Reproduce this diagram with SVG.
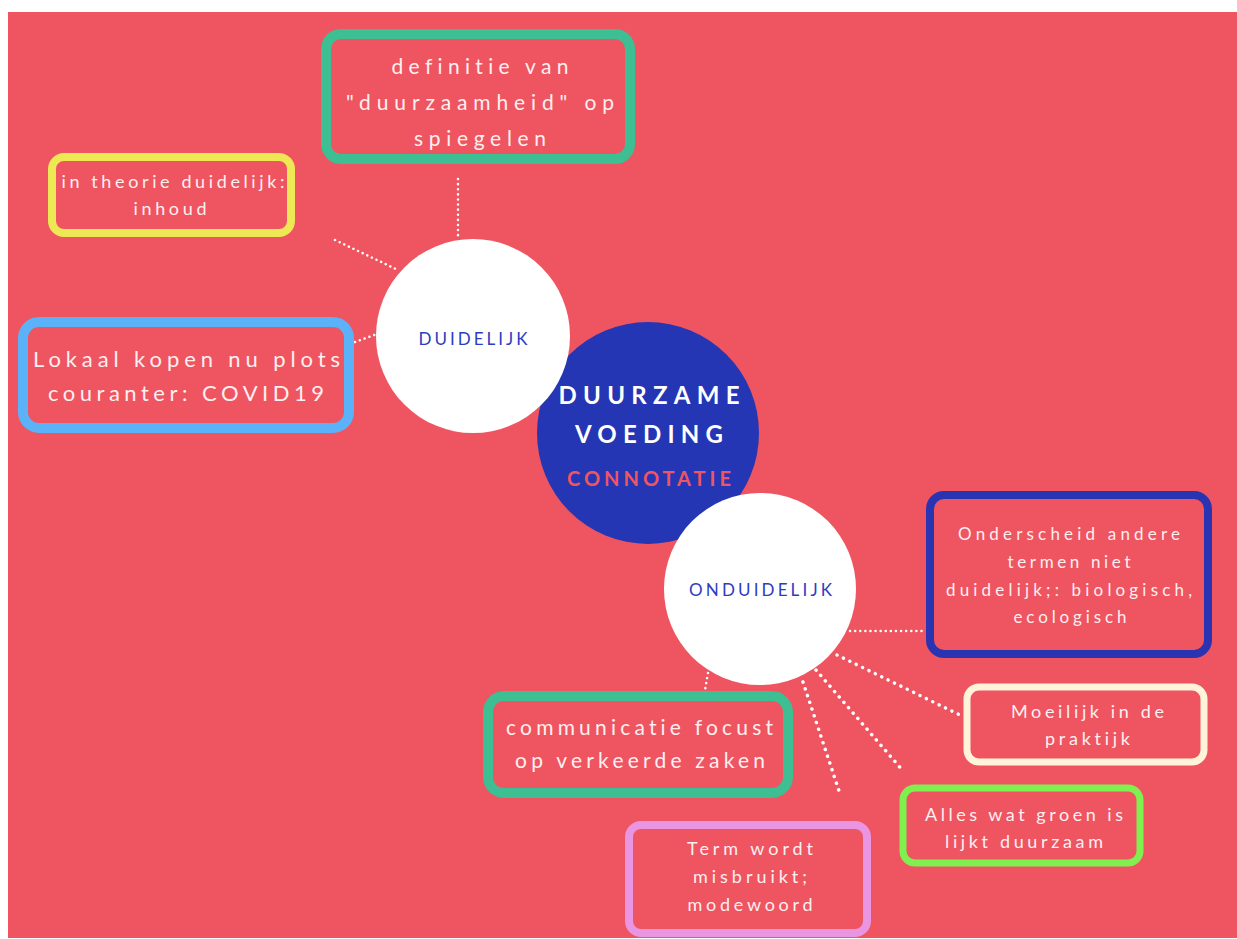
<svg xmlns="http://www.w3.org/2000/svg" width="1237" height="939" viewBox="0 0 1237 939">
  <style>
    text { font-variant-ligatures: none; }
    .box { fill: #EE5560; }
    .lbl { font-family: Lato, "Open Sans", "Liberation Sans", sans-serif; fill: #FDEFF0; text-anchor: middle; }
    .dot { fill: none; stroke: #FFFFFF; stroke-linecap: round; }
    .fine { stroke-width: 2.5; stroke-dasharray: 0.1 5; }
    .bold { stroke-width: 3.5; stroke-dasharray: 0.1 7; }
    .circ { font-family: Lato, "Open Sans", "Liberation Sans", sans-serif; text-anchor: middle; fill: #2E3DBF; font-size: 17px; }
    .core { font-family: Lato, "Open Sans", "Liberation Sans", sans-serif; text-anchor: middle; font-weight: bold; }
  </style>

  <rect x="0" y="0" width="1237" height="939" fill="#FFFFFF"/>
  <rect x="8" y="12" width="1229" height="926" fill="#EE5560"/>

  <!-- dotted links between the circles and their boxes -->
  <g id="connectors">
    <line class="dot fine" x1="458" y1="179" x2="458" y2="238"/>
    <line class="dot fine" x1="335" y1="240" x2="398" y2="270"/>
    <line class="dot fine" x1="355" y1="342" x2="377" y2="334"/>
    <line class="dot fine" x1="850" y1="631" x2="925" y2="631"/>
    <line class="dot bold" x1="837" y1="655" x2="962" y2="716"/>
    <line class="dot bold" x1="816" y1="670" x2="904" y2="772"/>
    <line class="dot bold" x1="803" y1="682" x2="840" y2="794"/>
    <line class="dot fine" x1="708" y1="673" x2="705" y2="690"/>
  </g>

  <g id="centre">
    <circle cx="648" cy="433" r="111" fill="#2536B5"/>
    <text class="core" x="649" y="404" font-size="24" fill="#FFFFFF" textLength="181" lengthAdjust="spacing">DUURZAME</text>
    <text class="core" x="649" y="443" font-size="24" fill="#FFFFFF" textLength="148" lengthAdjust="spacing">VOEDING</text>
    <text class="core" x="649" y="486" font-size="20" fill="#EE5560" textLength="164" lengthAdjust="spacing">CONNOTATIE</text>
  </g>

  <g id="duidelijk">
    <circle cx="473" cy="336" r="97" fill="#FFFFFF"/>
    <text class="circ" x="473" y="345" textLength="109" lengthAdjust="spacing">DUIDELIJK</text>
  </g>

  <g id="onduidelijk">
    <circle cx="760" cy="589" r="96" fill="#FFFFFF"/>
    <text class="circ" x="760.5" y="596" textLength="143" lengthAdjust="spacing">ONDUIDELIJK</text>
  </g>

  <g id="definitie">
    <rect class="box" x="326" y="34" width="304" height="125" rx="15" stroke="#3DBE93" stroke-width="10"/>
    <text class="lbl" x="480" y="74" font-size="21" textLength="177" lengthAdjust="spacing">definitie van</text>
    <text class="lbl" x="480" y="110" font-size="21" textLength="268" lengthAdjust="spacing">"duurzaamheid" op</text>
    <text class="lbl" x="480" y="146" font-size="21" textLength="132" lengthAdjust="spacing">spiegelen</text>
  </g>

  <g id="theorie">
    <rect class="box" x="52" y="157" width="239" height="76" rx="12" stroke="#EDE854" stroke-width="8"/>
    <text class="lbl" x="173" y="188" font-size="18" textLength="223" lengthAdjust="spacing">in theorie duidelijk:</text>
    <text class="lbl" x="170" y="215" font-size="18" textLength="73" lengthAdjust="spacing">inhoud</text>
  </g>

  <g id="lokaal">
    <rect class="box" x="23" y="322" width="326" height="106" rx="16" stroke="#5BB2F8" stroke-width="10"/>
    <text class="lbl" x="186.5" y="367" font-size="22" textLength="307" lengthAdjust="spacing">Lokaal kopen nu plots</text>
    <text class="lbl" x="186" y="401" font-size="22" textLength="276" lengthAdjust="spacing">couranter: COVID19</text>
  </g>

  <g id="onderscheid">
    <rect class="box" x="930" y="495" width="278" height="159" rx="14" stroke="#2A34B2" stroke-width="8"/>
    <text class="lbl" x="1069" y="540" font-size="17" textLength="222" lengthAdjust="spacing">Onderscheid andere</text>
    <text class="lbl" x="1069" y="568" font-size="17" textLength="123" lengthAdjust="spacing">termen niet</text>
    <text class="lbl" x="1069" y="596" font-size="17" textLength="246" lengthAdjust="spacing">duidelijk;: biologisch,</text>
    <text class="lbl" x="1070" y="623" font-size="17" textLength="113" lengthAdjust="spacing">ecologisch</text>
  </g>

  <g id="moeilijk">
    <rect class="box" x="967" y="687" width="237" height="75" rx="12" stroke="#FFF3DA" stroke-width="7"/>
    <text class="lbl" x="1087.5" y="718" font-size="18" textLength="153" lengthAdjust="spacing">Moeilijk in de</text>
    <text class="lbl" x="1087.5" y="745" font-size="18" textLength="85" lengthAdjust="spacing">praktijk</text>
  </g>

  <g id="groen">
    <rect class="box" x="903" y="788" width="237" height="75" rx="12" stroke="#80F050" stroke-width="7"/>
    <text class="lbl" x="1024" y="821" font-size="18" textLength="198" lengthAdjust="spacing">Alles wat groen is</text>
    <text class="lbl" x="1024" y="848" font-size="18" textLength="158" lengthAdjust="spacing">lijkt duurzaam</text>
  </g>

  <g id="communicatie">
    <rect class="box" x="488" y="696" width="300" height="97" rx="16" stroke="#3DBE93" stroke-width="10"/>
    <text class="lbl" x="639.5" y="735" font-size="21" textLength="267" lengthAdjust="spacing">communicatie focust</text>
    <text class="lbl" x="640" y="768" font-size="21" textLength="250" lengthAdjust="spacing">op verkeerde zaken</text>
  </g>

  <g id="misbruikt">
    <rect class="box" x="629" y="825" width="238" height="108" rx="12" stroke="#EA95E2" stroke-width="8"/>
    <text class="lbl" x="750" y="855" font-size="18" textLength="126" lengthAdjust="spacing">Term wordt</text>
    <text class="lbl" x="750" y="883" font-size="18" textLength="114" lengthAdjust="spacing">misbruikt;</text>
    <text class="lbl" x="750" y="911" font-size="18" textLength="125" lengthAdjust="spacing">modewoord</text>
  </g>
</svg>
